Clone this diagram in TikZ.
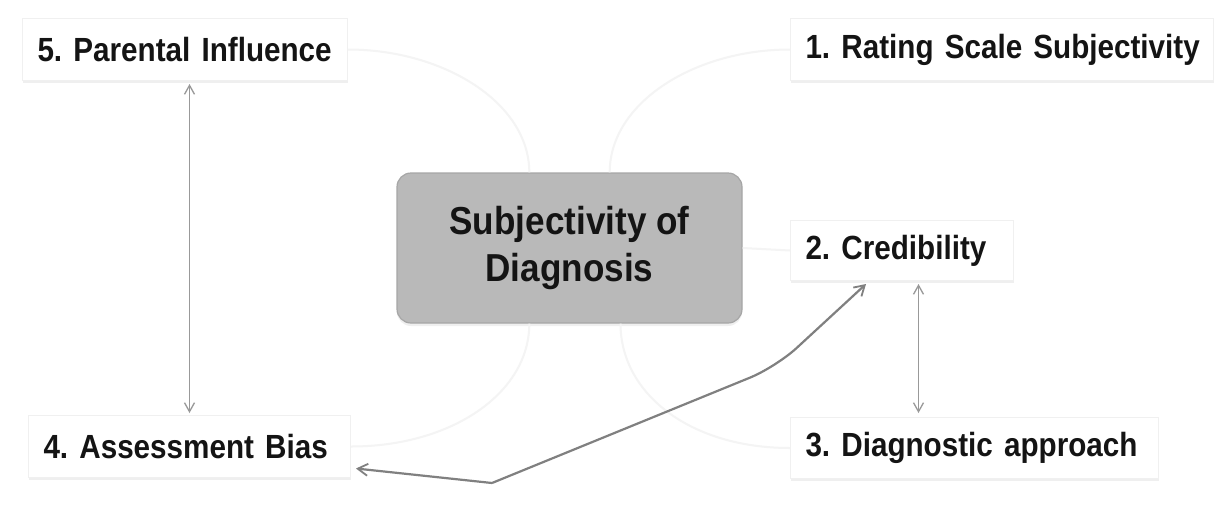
\documentclass[tikz,border=0pt]{standalone}
\usepackage{fontspec}
\setmainfont{Liberation Sans}[FakeStretch=0.9]
\newfontfamily\boxfont{Liberation Sans}[FakeStretch=0.885]
\usetikzlibrary{arrows.meta,shadows}
\begin{document}
\frenchspacing
\begin{tikzpicture}[x=1pt,y=-1pt,
  item/.style={draw=gray!12, fill=white, line width=1pt, anchor=north west,
    inner xsep=15pt, inner ysep=0pt, align=left,
    font=\boxfont\fontsize{33.5}{40}\selectfont\bfseries\frenchspacing, text=black!92,
    drop shadow={shadow xshift=0pt, shadow yshift=-2.5pt, opacity=0.12, fill=gray}},
  hub/.style={draw=gray!70, fill=gray!55, line width=1.2pt, rounded corners=14pt,
    align=center, font=\fontsize{39}{47}\selectfont\bfseries, text=black!92,
    drop shadow={shadow xshift=0pt, shadow yshift=-3pt, opacity=0.12, fill=gray}},
  faint/.style={draw=gray!9, line width=2pt},
  linkarrow/.style={draw=gray!80, line width=1.4pt,
    {Straight Barb[length=9pt,width=10pt,line width=1.3pt]}-{Straight Barb[length=9pt,width=10pt,line width=1.3pt]}},
  darkarrow/.style={draw=gray!100, line width=2.2pt,
    -{Straight Barb[length=10pt,width=12pt,line width=1.8pt]}}
]
\useasboundingbox (0,0) rectangle (1222,504);
\fill[white] (0,0) rectangle (1222,504);

% boxes
\node[hub, minimum width=345pt, minimum height=150pt] (c) at (569.5,248) {Subjectivity of\\Diagnosis};
\node[item, text width=295pt, minimum height=62pt] (b5) at (22,18) {\mbox{5. Parental Influence}};
\node[item, text width=393pt, minimum height=62pt] (b1) at (790,18) {\mbox{1. Rating Scale Subjectivity}};
\node[item, text width=193pt, minimum height=60pt] (b2) at (790,220) {\mbox{2. Credibility}};
\node[item, text width=338pt, minimum height=61pt] (b3) at (790,417) {\mbox{3. Diagnostic approach}};
\node[item, text width=292pt, minimum height=62pt] (b4) at (28,415) {\mbox{4. Assessment Bias}};

% faint hub connectors
\draw[faint] (b5.east) .. controls +(95,0) and +(0,-70) .. (c.118);
\draw[faint] (b1.west) .. controls +(-95,0) and +(0,-70) .. (c.62);
\draw[faint] (c.east) -- (b2.west);
\draw[faint] (c.304) .. controls +(0,70) and +(-100,0) .. (b3.west);
\draw[faint] (c.242) .. controls +(0,70) and +(100,0) .. (b4.east);

% arrows
\draw[linkarrow, shorten <=3pt, shorten >=2pt] (b5.south -| b4.north) -- (b4.north);
\draw[linkarrow, shorten <=3pt, shorten >=4pt] ([xshift=16.5pt]b2.south) -- ([xshift=16.5pt]b2.south |- b3.north);
\coordinate (bend) at (492,483);
\coordinate (knee) at (776,367);
\draw[darkarrow] (bend) -- ([xshift=5pt,yshift=-22pt]b4.east);
\draw[darkarrow, rounded corners=28pt] (bend) -- (knee) -- ([xshift=-36pt,yshift=-3pt]b2.south);
\end{tikzpicture}
\end{document}
